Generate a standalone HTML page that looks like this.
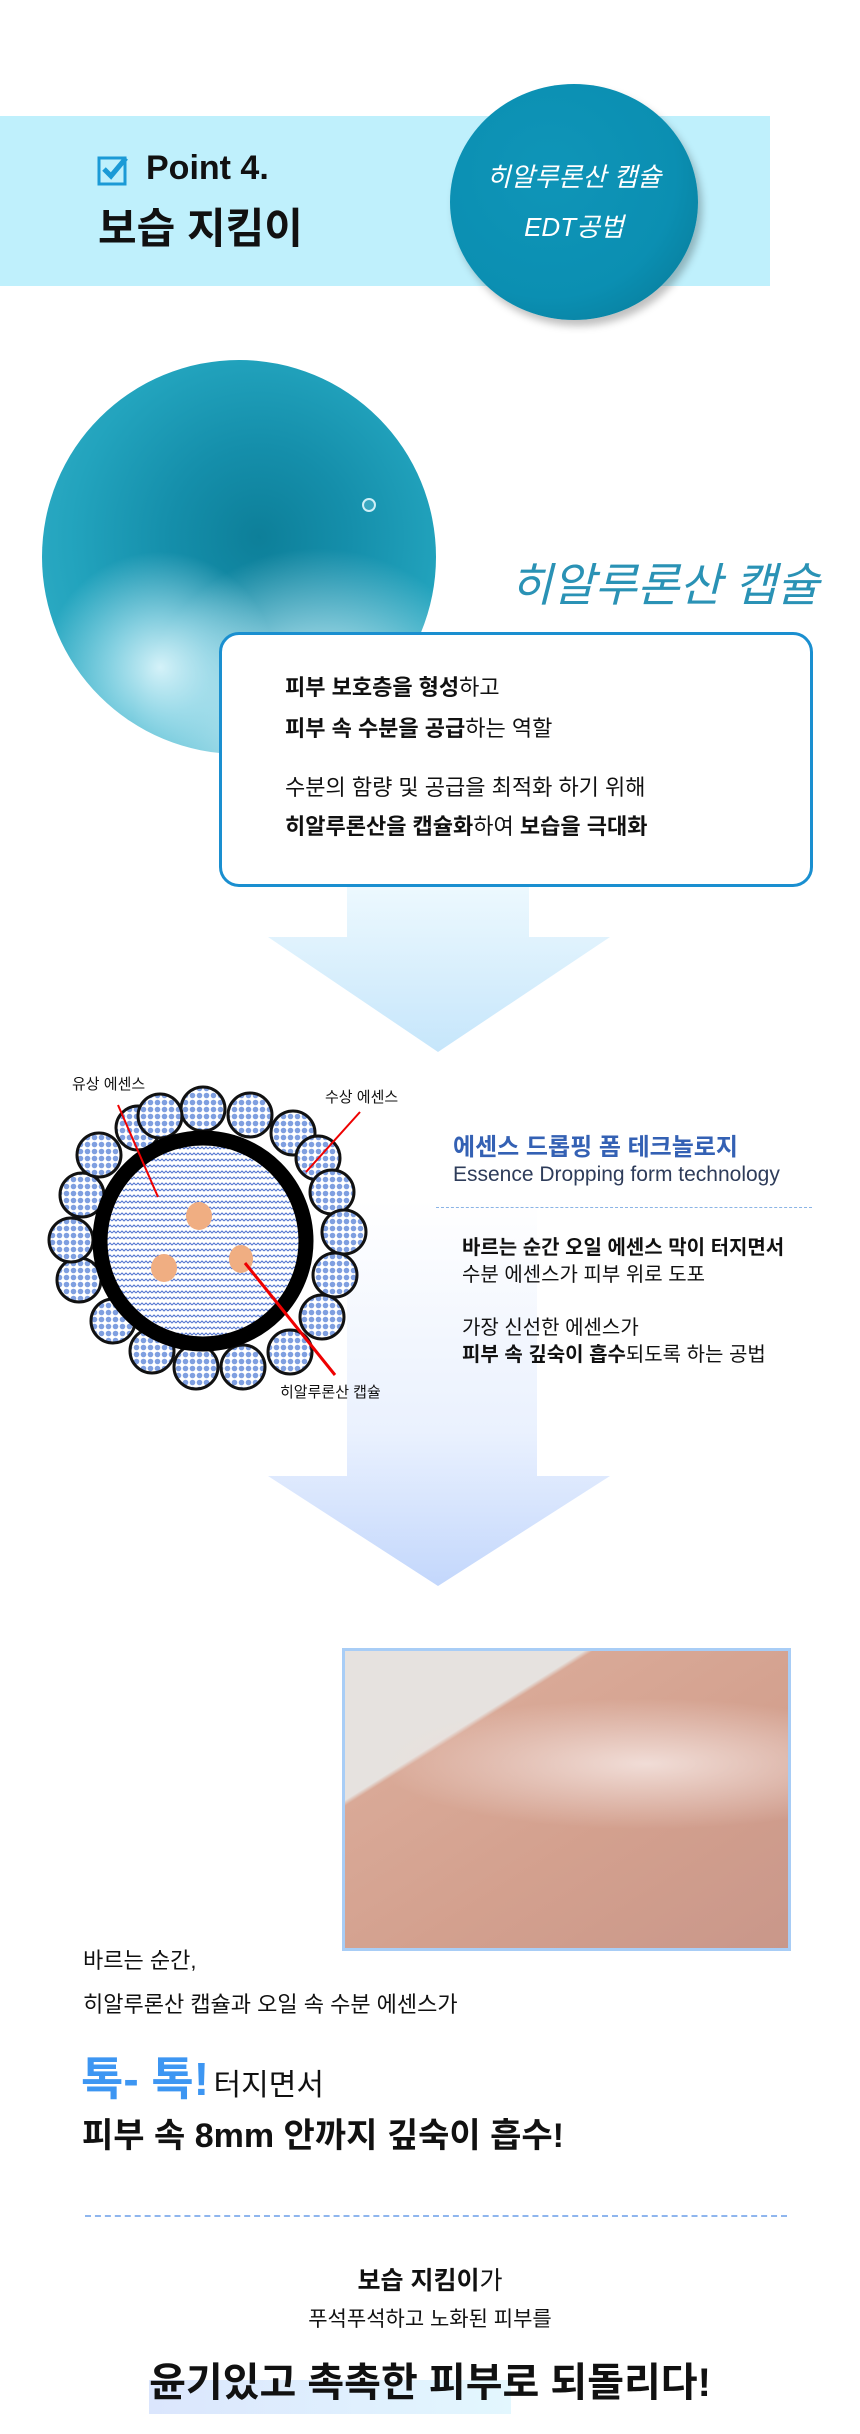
<!DOCTYPE html>
<html><head><meta charset="utf-8">
<style>
*{margin:0;padding:0;box-sizing:border-box}
body{width:860px;height:2434px;background:#fff;position:relative;overflow:hidden;font-family:"Liberation Sans","Noto Sans CJK KR",sans-serif;color:#111}
.a{position:absolute;white-space:nowrap}
.b{font-weight:700}
</style></head><body>

<!-- header band -->
<div class="a" style="left:0;top:116px;width:770px;height:170px;background:#bff0fc"></div>
<svg class="a" style="left:97px;top:154px" width="32" height="32" viewBox="0 0 32 32">
<rect x="2" y="4" width="26" height="26" fill="none" stroke="#1b9ad6" stroke-width="3"/>
<path d="M7 15 L14 22 L29 4" fill="none" stroke="#1b9ad6" stroke-width="5"/>
</svg>
<div class="a b" style="left:146px;top:148px;font-size:34px;line-height:40px">Point 4.</div>
<div class="a b" style="left:98px;top:203px;font-size:42px;line-height:52px">보습 지킴이</div>

<!-- badge -->
<div class="a" style="left:450px;top:84px;width:248px;height:236px;border-radius:50%;background:radial-gradient(ellipse at 40% 38%,#0f95b8 0%,#0b8fb2 60%,#087f9e 85%,#06607a 100%);box-shadow:4px 6px 8px rgba(0,0,0,.25)"></div>
<div class="a" style="left:450px;top:160px;width:248px;text-align:center;color:#fff;font-size:26px;line-height:34px;font-style:italic">히알루론산 캡슐</div>
<div class="a" style="left:450px;top:210px;width:248px;text-align:center;color:#fff;font-size:26px;line-height:34px;font-style:italic">EDT공법</div>

<!-- photo circle -->
<div class="a" style="left:42px;top:360px;width:394px;height:394px;border-radius:50%;background:
radial-gradient(circle at 30% 78%,rgba(230,250,255,.9) 0,rgba(200,240,250,.6) 12%,rgba(0,0,0,0) 28%),
radial-gradient(circle at 70% 95%,rgba(240,252,255,.95) 0,rgba(220,245,252,.6) 20%,rgba(0,0,0,0) 40%),
radial-gradient(circle at 55% 45%,#0d7f99 0,#158fab 30%,#22a3bd 60%,#3ab4cc 100%)"></div>
<div class="a" style="left:362px;top:498px;width:14px;height:14px;border-radius:50%;border:2px solid #cfeff7;background:#3aa7c0"></div>

<div class="a" style="left:510px;top:555px;font-size:46px;line-height:60px;color:#2a92b5;font-style:italic">히알루론산 캡슐</div>

<!-- arrow 1 -->
<svg class="a" style="left:0;top:880px" width="860" height="180">
<defs><linearGradient id="g1" x1="0" y1="0" x2="0" y2="1"><stop offset="0" stop-color="#eef9fe"/><stop offset="1" stop-color="#c6e6fb"/></linearGradient></defs>
<path d="M347 0 H529 V57 H610 L438 172 L268 57 H347 Z" fill="url(#g1)"/>
</svg>

<!-- box -->
<div class="a" style="left:219px;top:632px;width:594px;height:255px;border:3px solid #1a8fd0;border-radius:20px;background:#fff"></div>
<div class="a" style="left:285px;top:672px;font-size:22px;line-height:32px"><span class="b">피부 보호층을 형성</span>하고</div>
<div class="a" style="left:285px;top:713px;font-size:22px;line-height:32px"><span class="b">피부 속 수분을 공급</span>하는 역할</div>
<div class="a" style="left:285px;top:772px;font-size:22px;line-height:32px">수분의 함량 및 공급을 최적화 하기 위해</div>
<div class="a" style="left:285px;top:811px;font-size:22px;line-height:32px"><span class="b">히알루론산을 캡슐화</span>하여 <span class="b">보습을 극대화</span></div>

<!-- arrow 2 -->
<svg class="a" style="left:0;top:1200px" width="860" height="400">
<defs><linearGradient id="g2" x1="0" y1="0" x2="0" y2="1"><stop offset="0" stop-color="#ffffff"/><stop offset="0.6" stop-color="#eaf1fe"/><stop offset="1" stop-color="#c3d7fc"/></linearGradient></defs>
<path d="M347 0 H537 V276 H610 L438 386 L268 276 H347 Z" fill="url(#g2)"/>
</svg>

<!-- diagram -->
<svg class="a" style="left:0;top:1060px" width="440" height="370" viewBox="0 1060 440 370">
<defs>
<pattern id="dots" width="7" height="7" patternUnits="userSpaceOnUse">
<rect width="7" height="7" fill="#fff"/><circle cx="3.5" cy="3.5" r="2.8" fill="#7f9fe0"/>
</pattern>
<pattern id="wave" width="8" height="6" patternUnits="userSpaceOnUse">
<rect width="8" height="6" fill="#fff"/><path d="M0 3 L2 1 L4 3 L6 1 L8 3" fill="none" stroke="#5577d0" stroke-width="1.1"/>
</pattern>
</defs>
<g stroke="#111" stroke-width="3" fill="url(#dots)">
<circle cx="203" cy="1109" r="22"/><circle cx="250" cy="1115" r="22"/><circle cx="293" cy="1133" r="22"/><circle cx="318" cy="1158" r="22"/>
<circle cx="332" cy="1192" r="22"/><circle cx="344" cy="1232" r="22"/><circle cx="335" cy="1275" r="22"/><circle cx="322" cy="1317" r="22"/>
<circle cx="290" cy="1352" r="22"/><circle cx="243" cy="1367" r="22"/><circle cx="196" cy="1367" r="22"/><circle cx="152" cy="1351" r="22"/>
<circle cx="113" cy="1321" r="22"/><circle cx="79" cy="1280" r="22"/><circle cx="71" cy="1240" r="22"/><circle cx="82" cy="1195" r="22"/>
<circle cx="99" cy="1155" r="22"/><circle cx="138" cy="1128" r="22"/><circle cx="160" cy="1116" r="22"/>
</g>
<circle cx="203" cy="1241" r="103" fill="url(#wave)" stroke="#000" stroke-width="15"/>
<ellipse cx="199" cy="1216" rx="13" ry="14" fill="#f0ae82"/>
<ellipse cx="164" cy="1268" rx="13" ry="14" fill="#f0ae82"/>
<ellipse cx="241" cy="1259" rx="12" ry="14" fill="#f0ae82"/>
<line x1="118" y1="1105" x2="158" y2="1197" stroke="#e00" stroke-width="2"/>
<line x1="360" y1="1112" x2="306" y2="1172" stroke="#e00" stroke-width="2"/>
<line x1="245" y1="1263" x2="335" y2="1375" stroke="#e00" stroke-width="3"/>
</svg>
<div class="a" style="left:72px;top:1075px;font-size:15px;line-height:20px">유상 에센스</div>
<div class="a" style="left:325px;top:1088px;font-size:15px;line-height:20px">수상 에센스</div>
<div class="a" style="left:280px;top:1383px;font-size:15px;line-height:20px">히알루론산 캡슐</div>

<div class="a b" style="left:453px;top:1132px;font-size:24px;line-height:32px;color:#3461b4">에센스 드롭핑 폼 테크놀로지</div>
<div class="a" style="left:453px;top:1161px;font-size:21px;line-height:28px;color:#2e3c5a">Essence Dropping form technology</div>
<div class="a" style="left:436px;top:1207px;width:376px;border-top:1.5px dashed #8ab4e6"></div>
<div class="a" style="left:462px;top:1235px;font-size:20px;line-height:27px"><span class="b">바르는 순간 오일 에센스 막이 터지면서</span><br>수분 에센스가 피부 위로 도포</div>
<div class="a" style="left:462px;top:1315px;font-size:20px;line-height:27px">가장 신선한 에센스가<br><span class="b">피부 속 깊숙이 흡수</span>되도록 하는 공법</div>

<!-- skin photo -->
<div class="a" style="left:342px;top:1648px;width:449px;height:303px;border:3px solid #a8cdf6;background:
radial-gradient(ellipse 60% 22% at 68% 38%,rgba(250,240,238,.75) 0,rgba(240,220,215,.45) 55%,rgba(255,255,255,0) 100%),
linear-gradient(148deg,#e6e2df 0,#e6e2df 26%,#d9a997 27%,#d3a08e 60%,#c9978a 100%)"></div>

<div class="a" style="left:83px;top:1946px;font-size:22px;line-height:30px">바르는 순간,</div>
<div class="a" style="left:83px;top:1990px;font-size:22px;line-height:30px">히알루론산 캡슐과 오일 속 수분 에센스가</div>
<div class="a" style="left:81px;top:2052px;line-height:54px"><span class="b" style="font-size:46px;color:#3d96f2">톡- 톡!</span> <span style="font-size:30px">터지면서</span></div>
<div class="a b" style="left:82px;top:2114px;font-size:34px;line-height:44px">피부 속 8mm 안까지 깊숙이 흡수!</div>

<div class="a" style="left:85px;top:2215px;width:702px;border-top:2px dashed #8fb6ee"></div>

<div class="a" style="left:0;top:2264px;width:860px;text-align:center;font-size:25px;line-height:34px"><span class="b">보습 지킴이</span>가</div>
<div class="a" style="left:0;top:2305px;width:860px;text-align:center;font-size:21px;line-height:30px">푸석푸석하고 노화된 피부를</div>
<div class="a" style="left:149px;top:2380px;width:362px;height:34px;background:linear-gradient(90deg,#dbe6fd,#e3f7fe)"></div>
<div class="a b" style="left:0;top:2358px;width:860px;text-align:center;font-size:40px;line-height:50px">윤기있고 촉촉한 피부로 되돌리다!</div>

</body></html>
